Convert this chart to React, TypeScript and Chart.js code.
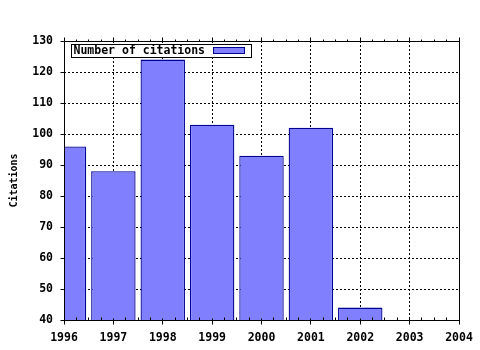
import React, { useEffect, useRef } from 'react';
import { Chart, registerables } from 'chart.js';

Chart.register(...registerables);

const years = ['1996', '1997', '1998', '1999', '2000', '2001', '2002', '2003', '2004'];
const citations: (number | null)[] = [96, 88, 124, 103, 93, 102, 44, null, null];
const seriesLabel = 'Number of citations';
const yAxisTitle = 'Citations';
const yMin = 40;
const yMax = 130;
const yStep = 10;

const FONT = '"DejaVu Sans Mono", "Liberation Mono", monospace';
const BAR_FILL = '#8080ff';
const BAR_EDGE = '#000090';

const p = (v: number) => Math.floor(v) + 0.5;

const gridPlugin = {
  id: 'dottedGrid',
  beforeDatasetsDraw(chart: any) {
    const { ctx, chartArea: a, scales } = chart;
    const xs = scales.x;
    const ys = scales.y;
    ctx.save();
    ctx.strokeStyle = '#000';
    ctx.lineWidth = 1;
    ctx.setLineDash([2, 2]);
    ctx.beginPath();
    for (let i = 1; i < years.length - 1; i++) {
      const X = p(xs.getPixelForValue(i));
      ctx.moveTo(X, a.top);
      ctx.lineTo(X, a.bottom);
    }
    for (let v = yMin + yStep; v < yMax; v += yStep) {
      const Y = p(ys.getPixelForValue(v));
      ctx.moveTo(a.left, Y);
      ctx.lineTo(a.right, Y);
    }
    ctx.stroke();
    ctx.restore();
  },
};

const framePlugin = {
  id: 'frameAndLegend',
  afterDraw(chart: any) {
    const { ctx, chartArea: a, scales } = chart;
    const xs = scales.x;
    const ys = scales.y;
    ctx.save();
    ctx.strokeStyle = '#000';
    ctx.lineWidth = 1;
    ctx.setLineDash([]);
    // frame
    ctx.beginPath();
    ctx.rect(p(a.left), p(a.top), Math.round(a.right - a.left), Math.round(a.bottom - a.top));
    ctx.stroke();
    // x ticks (bottom and top)
    const step = xs.getPixelForValue(1) - xs.getPixelForValue(0);
    ctx.beginPath();
    for (let i = 0; i < years.length; i++) {
      const x0 = xs.getPixelForValue(i);
      const X = p(x0);
      ctx.moveTo(X, p(a.bottom) - 2);
      ctx.lineTo(X, p(a.bottom) + 4);
      ctx.moveTo(X, p(a.top) - 4);
      ctx.lineTo(X, p(a.top) + 1);
      if (i < years.length - 1) {
        for (let k = 1; k < 4; k++) {
          const Xm = p(x0 + (k * step) / 4);
          ctx.moveTo(Xm, p(a.bottom) - 3);
          ctx.lineTo(Xm, p(a.bottom));
          ctx.moveTo(Xm, p(a.top) - 2);
          ctx.lineTo(Xm, p(a.top));
        }
      }
    }
    // y ticks (left)
    for (let v = yMin; v <= yMax; v += yStep) {
      const Y = p(ys.getPixelForValue(v));
      ctx.moveTo(p(a.left) - 4, Y);
      ctx.lineTo(p(a.left), Y);
    }
    ctx.stroke();

    // legend
    ctx.font = `bold 11.5px ${FONT}`;
    const tw = ctx.measureText(seriesLabel).width;
    const bx = p(a.left + 7);
    const by = p(a.top + 3);
    const swW = 31;
    const bw = Math.round(2 + tw + 9 + swW + 6);
    const bh = 13;
    ctx.fillStyle = '#fff';
    ctx.fillRect(bx, by, bw, bh);
    ctx.strokeRect(bx, by, bw, bh);
    ctx.fillStyle = '#000';
    ctx.textBaseline = 'middle';
    ctx.textAlign = 'left';
    ctx.fillText(seriesLabel, bx + 2, by + bh / 2 + 0.5);
    const sx = Math.round(bx + 2 + tw + 8) + 0.5;
    const sy = by + 3;
    ctx.fillStyle = BAR_FILL;
    ctx.fillRect(sx, sy, swW, 6);
    ctx.strokeStyle = BAR_EDGE;
    ctx.strokeRect(sx, sy, swW, 6);
    ctx.restore();
  },
};

export default function App() {
  const ref = useRef<HTMLCanvasElement | null>(null);
  useEffect(() => {
    document.body.style.margin = '0';
    const canvas = ref.current;
    if (!canvas) return;
    const chart = new Chart(canvas, {
      type: 'bar',
      data: {
        labels: years,
        datasets: [
          {
            label: seriesLabel,
            data: citations,
            backgroundColor: BAR_FILL,
            borderColor: BAR_EDGE,
            borderWidth: 1.3,
            borderSkipped: false,
            barPercentage: 0.9,
            categoryPercentage: 1,
            clip: 0,
          } as any,
        ],
      },
      options: {
        responsive: false,
        animation: false,
        devicePixelRatio: 1,
        layout: { padding: { top: 41, right: 21, left: 0, bottom: 0 } },
        plugins: {
          legend: { display: false },
          tooltip: { enabled: false },
        },
        scales: {
          x: {
            type: 'category',
            offset: false,
            grid: { display: false, drawTicks: false },
            border: { display: false },
            ticks: {
              color: '#000',
              font: { family: FONT, size: 11.5, weight: 'bold' },
              padding: 11,
              maxRotation: 0,
              autoSkip: false,
            },
            afterFit: (s: any) => {
              s.height = 30;
              s.paddingLeft = 0;
              s.paddingRight = 0;
            },
          },
          y: {
            min: yMin,
            max: yMax,
            grid: { display: false, drawTicks: false },
            border: { display: false },
            ticks: {
              stepSize: yStep,
              color: '#000',
              font: { family: FONT, size: 11.5, weight: 'bold' },
              padding: 11,
            },
            title: {
              display: true,
              text: yAxisTitle,
              color: '#000',
              font: { family: FONT, size: 10, weight: 'bold' },
              padding: { top: 8, bottom: 0 },
            },
            afterFit: (s: any) => {
              s.width = 64;
              s.paddingTop = 0;
              s.paddingBottom = 0;
            },
          },
        },
      },
      plugins: [gridPlugin, framePlugin],
    });
    return () => chart.destroy();
  }, []);
  return <canvas ref={ref} width={480} height={350} style={{ display: 'block' }} />;
}
